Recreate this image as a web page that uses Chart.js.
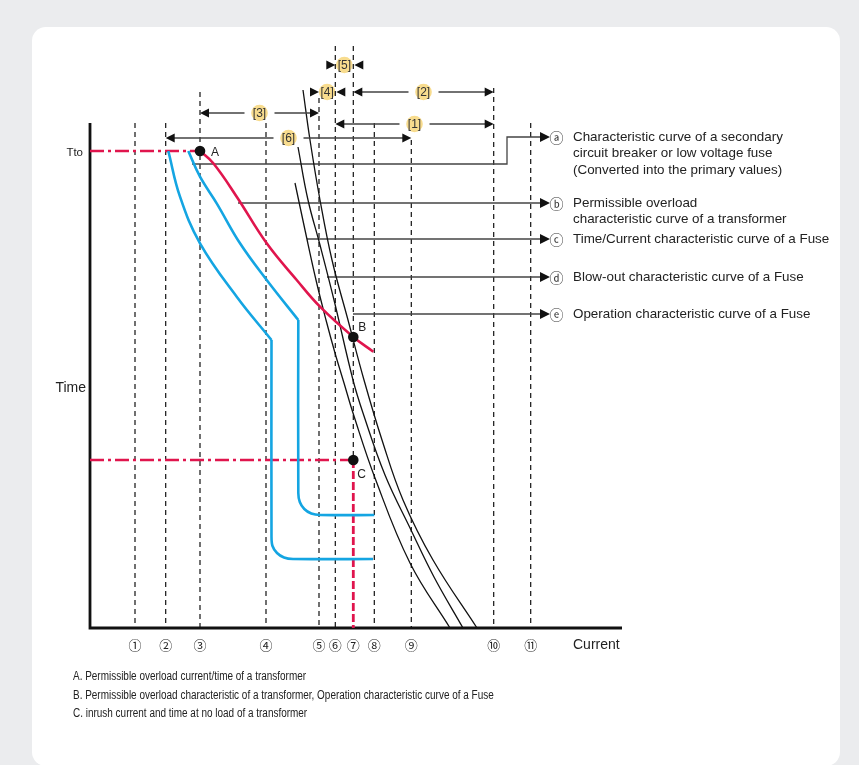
<!DOCTYPE html>
<html>
<head>
<meta charset="utf-8">
<script src="https://cdn.jsdelivr.net/npm/chart.js@4.4.1/dist/chart.umd.min.js"></script>
<style>
  html, body { margin: 0; padding: 0; background: #ebecee; }
  body { width: 859px; height: 765px; position: relative; overflow: hidden; }
  #card { position: absolute; left: 32px; top: 27px; width: 808px; height: 739px; background: #fff; border-radius: 14px; }
  #myChart { position: absolute; left: 0; top: 0; }
</style>
</head>
<body>
<div id="card"></div>
<canvas id="myChart" width="859" height="765"></canvas>
<script>
// reference currents ① .. ⑪ and the time at which each dashed guide stops
const refLabels = ['①','②','③','④','⑤','⑥','⑦','⑧','⑨','⑩','⑪'];
const refCurrents = [45, 75.7, 110, 176, 229, 245.3, 263.3, 284.3, 321.3, 403.7, 440.7];
const refTops = [505, 505, 536, 505, 530, 582, 582, 505, 488, 540, 505];

const timeTop = 505;
const currentEnd = 532;
const tTo = 477;

// marked points A, B, C
const pointNames = ['A', 'B', 'C'];
const pointCurrent = [110, 263.3, 263.3];
const pointTime = [477, 291, 168];

// (b) permissible overload curve of the transformer, A -> B
const overloadCurrent = [110, 123.3, 146.7, 176.7, 206.7, 230, 263.3, 283.3];
const overloadTime = [477, 464.7, 431.3, 384.7, 348, 321.3, 291, 276.3];

// (a) secondary breaker curves, knee at index 4 / 5
const breaker1Current = [78.3, 90, 110, 146.7, 181.5, 181.5, 182.5, 187, 194, 203, 283];
const breaker1Time = [477, 431.3, 384.7, 331.3, 288, 91, 82, 75, 70.5, 69, 69];
const breaker2Current = [98.3, 110, 126.7, 150, 176.7, 208.3, 208.3, 209.8, 214.3, 221.3, 230.3, 284.3];
const breaker2Time = [477, 451.3, 424.7, 384.7, 348, 308, 135, 126, 119, 114.5, 113, 113];
const kneeIndex = [4, 5];

// fuse curves
const fuseOpCurrent = [213, 220, 230, 242, 258, 274, 292, 313, 343, 387];
const fuseOpTime = [538, 488, 428, 368, 308, 248, 188, 128, 68, 0];
const fuseBlowCurrent = [208, 218, 230, 244, 263, 273, 295, 321, 344, 373];
const fuseBlowTime = [481, 428, 383, 328, 248, 215, 153, 98, 51, 0];
const fuseTcCurrent = [205, 215, 226, 236, 245, 254, 263, 285, 320, 360];
const fuseTcTime = [445, 398, 348, 308, 275, 245, 215, 150, 65, 0];

// dimension marks [1]..[6], between two reference currents
const dimLabels = ['[1]', '[2]', '[3]', '[4]', '[5]', '[6]'];
const dimFrom = [5, 6, 2, 4, 5, 1];
const dimTo = [9, 9, 4, 5, 6, 8];
const dimTime = [504, 536, 515, 536, 563, 490];
const dimOutside = [false, false, false, true, true, false];

// leader lines to the curve descriptions
const leaderLetters = ['ⓐ', 'ⓑ', 'ⓒ', 'ⓓ', 'ⓔ'];
const leaderText = [
  ['Characteristic curve of a secondary', 'circuit breaker or low voltage fuse', '(Converted into the primary values)'],
  ['Permissible overload', 'characteristic curve of a transformer'],
  ['Time/Current characteristic curve of a Fuse'],
  ['Blow-out characteristic curve of a Fuse'],
  ['Operation characteristic curve of a Fuse']
];
const leaderFromCurrent = [102, 148, 217, 237, 263];
const leaderFromTime = [464, 425, 389, 351, 314];
const leaderToTime = [491, 425, 389, 351, 314];
const leaderBend = 417;
const leaderTip = 460;

const notes = [
  'A. Permissible overload current/time of a transformer',
  'B. Permissible overload characteristic of a transformer, Operation characteristic curve of a Fuse',
  'C. inrush current and time at no load of a transformer'
];

const RED = '#e0154d';
const BLUE = '#14a5e2';
const INK = '#111';
const FONT = '"Liberation Sans", Arial, sans-serif';
const CIRCLED = '"Noto Sans CJK JP", "DejaVu Sans", sans-serif';

function xy(xs, ys) { return xs.map((x, i) => ({x: x, y: ys[i]})); }
function line(data, color, width, extra) {
  return Object.assign({data: data, borderColor: color, backgroundColor: color, borderWidth: width,
    showLine: true, pointRadius: 0, fill: false, tension: 0, clip: false}, extra || {});
}

const datasets = [];
datasets.push(Object.assign(line(xy(pointCurrent, pointTime), INK, 0), {showLine: false, pointRadius: 5.3, pointBackgroundColor: INK, pointBorderWidth: 0}));
datasets.push(line(xy(overloadCurrent, overloadTime), RED, 2.6, {tension: 0.4}));
[[breaker1Current, breaker1Time, kneeIndex[0]], [breaker2Current, breaker2Time, kneeIndex[1]]].forEach(([cx, ct, k]) => {
  datasets.push(line(xy(cx.slice(0, k + 1), ct.slice(0, k + 1)), BLUE, 2.6, {tension: 0.4}));
  datasets.push(line(xy(cx.slice(k), ct.slice(k)), BLUE, 2.6, {tension: 0.3}));
});
datasets.push(line(xy(fuseOpCurrent, fuseOpTime), INK, 1.3, {tension: 0.4}));
datasets.push(line(xy(fuseBlowCurrent, fuseBlowTime), INK, 1.3, {tension: 0.4}));
datasets.push(line(xy(fuseTcCurrent, fuseTcTime), INK, 1.3, {tension: 0.4}));
// Tto and inrush levels
datasets.push(line([{x: 0, y: tTo}, {x: pointCurrent[0], y: tTo}], RED, 2.6, {borderDash: [14, 4, 3, 4]}));
datasets.push(line([{x: 0, y: pointTime[2]}, {x: pointCurrent[2], y: pointTime[2]}], RED, 2.6, {borderDash: [14, 4, 3, 4]}));
datasets.push(line([{x: pointCurrent[2], y: pointTime[2]}, {x: pointCurrent[2], y: 0}], RED, 2.8, {borderDash: [8, 3]}));
// leader lines
leaderFromCurrent.forEach((x0, i) => {
  const pts = [{x: x0, y: leaderFromTime[i]}];
  if (leaderToTime[i] !== leaderFromTime[i]) {
    pts.push({x: leaderBend, y: leaderFromTime[i]}, {x: leaderBend, y: leaderToTime[i]});
  }
  pts.push({x: leaderTip - 8, y: leaderToTime[i]});
  datasets.push(line(pts, '#444', 1.3));
});
// dashed guides
refCurrents.forEach((c, i) => {
  const bottom = i === 6 ? pointTime[2] : 0;
  datasets.push(line([{x: c, y: refTops[i]}, {x: c, y: bottom}], INK, 1.2, {borderDash: [5, 4]}));
});
// axes
datasets.push(line([{x: 0, y: timeTop}, {x: 0, y: 0}, {x: currentEnd, y: 0}], INK, 2.8));

function txt(ctx, s, x, y, size, align, sx, color, family) {
  ctx.save();
  ctx.font = size + 'px ' + (family || FONT);
  ctx.fillStyle = color || '#222';
  ctx.textBaseline = 'middle';
  ctx.textAlign = align || 'left';
  ctx.translate(x, y);
  ctx.scale(sx || 1, 1);
  ctx.fillText(s, 0, 0);
  ctx.restore();
}
function tri(ctx, xt, y, dir, len, half) {
  ctx.beginPath();
  ctx.moveTo(xt, y);
  ctx.lineTo(xt - dir * len, y - half);
  ctx.lineTo(xt - dir * len, y + half);
  ctx.closePath();
  ctx.fill();
}

const annotate = {
  id: 'annotate',
  beforeDatasetsDraw(chart) {
    const ctx = chart.ctx, X = v => chart.scales.x.getPixelForValue(v), Y = v => chart.scales.y.getPixelForValue(v);
    ctx.save();
    ctx.fillStyle = '#f8dc8e';
    dimLabels.forEach((lab, i) => {
      const xm = (X(refCurrents[dimFrom[i]]) + X(refCurrents[dimTo[i]])) / 2;
      ctx.beginPath();
      ctx.arc(xm, Y(dimTime[i]), 8.3, 0, Math.PI * 2);
      ctx.fill();
    });
    ctx.restore();
  },
  afterDatasetsDraw(chart) {
    const ctx = chart.ctx, X = v => chart.scales.x.getPixelForValue(v), Y = v => chart.scales.y.getPixelForValue(v);
    ctx.save();
    // dimension marks
    dimLabels.forEach((lab, i) => {
      const x1 = X(refCurrents[dimFrom[i]]), x2 = X(refCurrents[dimTo[i]]), y = Y(dimTime[i]);
      const xm = (x1 + x2) / 2;
      ctx.fillStyle = '#111';
      ctx.strokeStyle = '#444';
      ctx.lineWidth = 1.5;
      if (dimOutside[i]) {
        tri(ctx, x1, y, 1, 9, 4.6);
        tri(ctx, x2 + 1, y, -1, 9, 4.6);
      } else {
        ctx.beginPath();
        ctx.moveTo(x1 + 8, y); ctx.lineTo(xm - 15, y);
        ctx.moveTo(xm + 15, y); ctx.lineTo(x2 - 8, y);
        ctx.stroke();
        tri(ctx, x1, y, -1, 9, 4.6);
        tri(ctx, x2, y, 1, 9, 4.6);
      }
      txt(ctx, lab, xm, y + 0.5, 12, 'center', 1, '#333');
    });
    // leader arrowheads and descriptions
    ctx.fillStyle = '#111';
    leaderLetters.forEach((l, i) => {
      const xt = X(leaderTip), y = Y(leaderToTime[i]);
      tri(ctx, xt, y, 1, 10, 5);
      txt(ctx, l, xt + 6.5, y + 0.5, 14, 'center', 1, '#333', CIRCLED);
      leaderText[i].forEach((s, j) => txt(ctx, s, xt + 23, y + j * 16.7, 13.4, 'left', 1, '#222'));
    });
    // point names
    txt(ctx, pointNames[0], X(pointCurrent[0]) + 11, Y(pointTime[0]) + 2, 12, 'left', 1, '#222');
    txt(ctx, pointNames[1], X(pointCurrent[1]) + 5, Y(pointTime[1]) - 9, 12, 'left', 1, '#222');
    txt(ctx, pointNames[2], X(pointCurrent[2]) + 4, Y(pointTime[2]) + 15, 12, 'left', 1, '#222');
    // axis texts
    const y0 = Y(0);
    refLabels.forEach((l, i) => txt(ctx, l, X(refCurrents[i]), y0 + 17, 13, 'center', 1, '#222', CIRCLED));
    txt(ctx, 'Current', X(483), y0 + 17, 14, 'left', 1, '#222');
    txt(ctx, 'Time', X(0) - 4, Y(240), 14, 'right', 1, '#222');
    txt(ctx, 'Tto', X(0) - 7, Y(tTo) + 2, 11.5, 'right', 1, '#222');
    notes.forEach((s, i) => txt(ctx, s, 73, y0 + 49 + i * 18.3, 12.3, 'left', 0.81, '#222'));
    ctx.restore();
  }
};

new Chart(document.getElementById('myChart'), {
  type: 'scatter',
  data: {datasets: datasets},
  options: {
    responsive: false,
    devicePixelRatio: 1,
    animation: false,
    events: [],
    layout: {padding: {left: 90, top: 40, right: 19, bottom: 137}},
    scales: {
      x: {type: 'linear', min: 0, max: 750, display: false},
      y: {type: 'linear', min: 0, max: 588, display: false}
    },
    plugins: {legend: {display: false}, tooltip: {enabled: false}}
  },
  plugins: [annotate]
});
</script>
</body>
</html>
